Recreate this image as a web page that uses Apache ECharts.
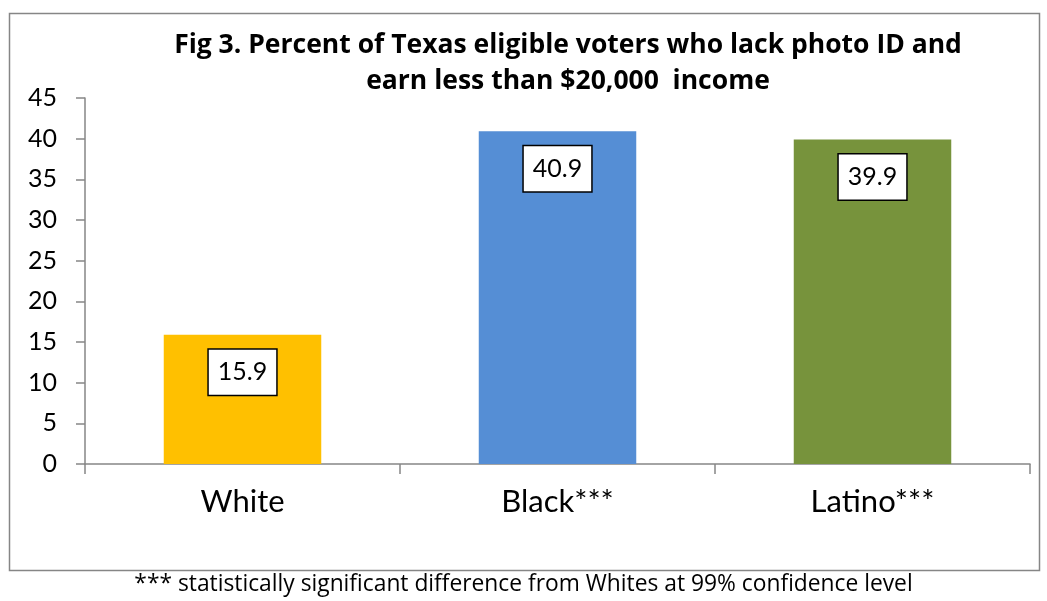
<!DOCTYPE html>
<html>
<head>
<meta charset="utf-8">
<script src="https://cdn.jsdelivr.net/npm/echarts@6/dist/echarts.min.js"></script>
<style>
  html, body { margin: 0; padding: 0; background: #fff; }
  #chart { width: 1047px; height: 601px; }
</style>
</head>
<body>
<div id="chart"></div>
<script>
// Percent of eligible voters lacking photo ID with income under $20,000
const categories = ['White', 'Black***', 'Latino***'];
const values = [15.9, 40.9, 39.9];
const barColors = ['#FFC000', '#558ED5', '#77933C'];
const yTicks = { min: 0, max: 45, interval: 5 };
const titleLines = ['Fig 3. Percent of Texas eligible voters who lack photo ID and', 'earn less than $20,000  income'];
const footnote = '*** statistically significant difference from Whites at 99% confidence level';

const font = 'Lato, "Open Sans", sans-serif';
const wideFont = '"Open Sans", Lato, sans-serif';
const axisGray = '#868686';

const chart = echarts.init(document.getElementById('chart'), null, { renderer: 'canvas' });
chart.setOption({
  animation: false,
  backgroundColor: '#fff',
  title: {
    text: titleLines.join('\n'),
    left: 563,
    textAlign: 'center',
    top: 22,
    textStyle: { fontFamily: wideFont, fontWeight: 'bold', fontSize: 26.5, lineHeight: 36, color: '#000' }
  },
  graphic: [
    {
      type: 'rect',
      shape: { x: 9.5, y: 13.5, width: 1030, height: 557 },
      style: { fill: 'none', stroke: axisGray, lineWidth: 1.5 },
      silent: true, z: -1
    },
    {
      type: 'text',
      left: 'center',
      top: 573,
      style: { text: footnote, fontFamily: wideFont, fontSize: 22.8, fill: '#000' }
    }
  ],
  grid: { left: 85, right: 17, top: 98, bottom: 137 },
  xAxis: {
    type: 'category',
    data: categories,
    boundaryGap: true,
    axisLine: { lineStyle: { color: axisGray, width: 1.5 } },
    axisTick: { show: true, length: 10, lineStyle: { color: axisGray, width: 1.5 } },
    axisLabel: { fontFamily: font, fontSize: 31, color: '#000', margin: 22 }
  },
  yAxis: {
    type: 'value',
    min: yTicks.min, max: yTicks.max, interval: yTicks.interval,
    splitLine: { show: false },
    axisLine: { show: true, lineStyle: { color: axisGray, width: 1.5 } },
    axisTick: { show: true, length: 9, lineStyle: { color: axisGray, width: 1.5 } },
    axisLabel: { fontFamily: font, fontSize: 25, color: '#000', margin: 28 }
  },
  series: [{
    type: 'bar',
    barWidth: '50%',
    data: values.map((v, i) => ({ value: v, itemStyle: { color: barColors[i] } })),
    label: {
      show: true,
      position: 'insideTop',
      distance: 15,
      formatter: p => p.value.toFixed(1),
      fontFamily: font,
      fontSize: 25,
      lineHeight: 29,
      color: '#000',
      backgroundColor: '#fff',
      borderColor: '#000',
      borderWidth: 1.5,
      padding: [8, 9, 8, 9]
    }
  }]
});
</script>
</body>
</html>
